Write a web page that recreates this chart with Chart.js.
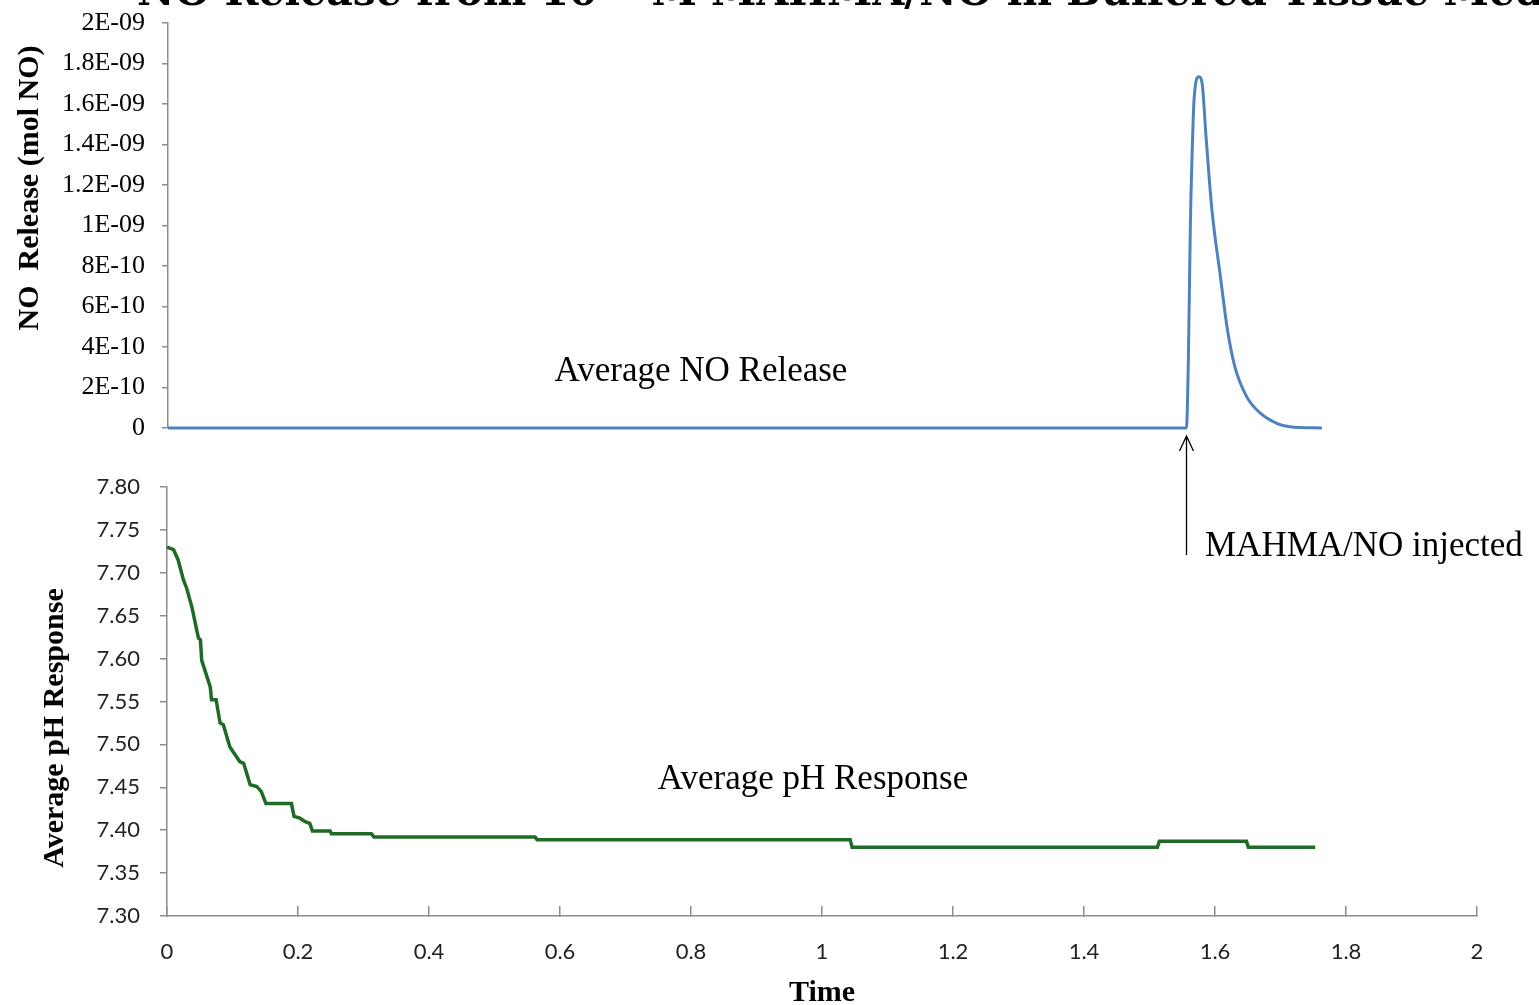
<!DOCTYPE html>
<html>
<head>
<meta charset="utf-8">
<script src="https://cdn.jsdelivr.net/npm/chart.js@4/dist/chart.umd.min.js"></script>
<style>
  html, body { margin: 0; padding: 0; background: #ffffff; }
  #wrap { position: relative; width: 1539px; height: 1005px; overflow: hidden; background: #ffffff; }
  canvas { position: absolute; left: 0; top: 0; }
</style>
</head>
<body>
<div id="wrap">
  <canvas id="topChart" width="1539" height="1005"></canvas>
  <canvas id="bottomChart" width="1539" height="1005"></canvas>
</div>
<script>
// ---------- data ----------
const noTime  = [0, 1.556, 1.559, 1.562, 1.566, 1.568, 1.575, 1.580, 1.586, 1.595, 1.608, 1.618, 1.630, 1.648, 1.669, 1.694, 1.714, 1.763];
const noValue = [0, 0, 3.36e-10, 9.94e-10, 1.488e-9, 1.636e-9, 1.735e-9, 1.702e-9, 1.439e-9, 1.077e-9, 7.47e-10, 5.0e-10, 3.03e-10, 1.55e-10, 7.3e-11, 2.3e-11, 6e-12, 0];

const pHTime  = [0, 0.010, 0.017, 0.025, 0.030, 0.038, 0.048, 0.051, 0.053, 0.066,
                 0.068, 0.075, 0.081, 0.086, 0.096, 0.111, 0.117, 0.127, 0.137, 0.144,
                 0.151, 0.190, 0.194, 0.203, 0.211, 0.218, 0.222, 0.249, 0.251, 0.312,
                 0.316, 0.562, 0.565, 1.043, 1.046, 1.512, 1.515, 1.648, 1.651, 1.753];
const pHValue = [7.730, 7.727, 7.715, 7.692, 7.682, 7.660, 7.624, 7.622, 7.598, 7.567,
                 7.552, 7.552, 7.525, 7.523, 7.497, 7.480, 7.478, 7.453, 7.451, 7.445,
                 7.431, 7.431, 7.416, 7.414, 7.410, 7.408, 7.399, 7.399, 7.396, 7.396,
                 7.392, 7.392, 7.389, 7.389, 7.380, 7.380, 7.387, 7.387, 7.380, 7.380];

const noTickValues = [0, 2e-10, 4e-10, 6e-10, 8e-10, 1e-9, 1.2e-9, 1.4e-9, 1.6e-9, 1.8e-9, 2e-9];
const noTickLabels = ['0', '2E-10', '4E-10', '6E-10', '8E-10', '1E-09', '1.2E-09', '1.4E-09', '1.6E-09', '1.8E-09', '2E-09'];
const pHTickValues = [7.30, 7.35, 7.40, 7.45, 7.50, 7.55, 7.60, 7.65, 7.70, 7.75, 7.80];
const pHTickLabels = ['7.30', '7.35', '7.40', '7.45', '7.50', '7.55', '7.60', '7.65', '7.70', '7.75', '7.80'];
const timeTickValues = [0, 0.2, 0.4, 0.6, 0.8, 1, 1.2, 1.4, 1.6, 1.8, 2];
const timeTickLabels = ['0', '0.2', '0.4', '0.6', '0.8', '1', '1.2', '1.4', '1.6', '1.8', '2'];

const injectTime = 1.556;

const chartTitle = 'NO Release from 10\u207B\u2074 M MAHMA/NO in Buffered Tissue Media';
const noAxisTitle = 'NO  Release (mol NO)';
const pHAxisTitle = 'Average pH Response';
const timeAxisTitle = 'Time';
const noSeriesLabel = 'Average NO Release';
const pHSeriesLabel = 'Average pH Response';
const injectLabel = 'MAHMA/NO injected';

// ---------- styles ----------
const SERIF = "'Liberation Serif', 'Times New Roman', serif";
const SANS = "Lato, 'Open Sans', sans-serif";
const AXIS_GRAY = '#8c8c8c';

function toXY(xs, ys) { return xs.map((x, i) => ({ x: x, y: ys[i] })); }
function fixedTicks(values) { return function (scale) { scale.ticks = values.map(v => ({ value: v })); }; }

Chart.defaults.animation = false;
Chart.defaults.responsive = false;
Chart.defaults.plugins.legend.display = false;
Chart.defaults.plugins.tooltip.enabled = false;

// ---------- top chart: NO release ----------
const topTextPlugin = {
  id: 'topText',
  afterDraw(chart) {
    const ctx = chart.ctx;
    ctx.save();
    // cut-off chart title
    ctx.fillStyle = '#000';
    ctx.font = "bold 41px 'DejaVu Serif', serif";
    ctx.textAlign = 'left';
    ctx.textBaseline = 'alphabetic';
    ctx.fillText(chartTitle, 137, 5);
    // y-axis title
    ctx.font = 'bold 30px ' + SERIF;
    ctx.translate(30, 188);
    ctx.rotate(-Math.PI / 2);
    ctx.textAlign = 'center';
    ctx.textBaseline = 'middle';
    ctx.fillText(noAxisTitle, 0, 0);
    ctx.restore();
    // series label
    ctx.save();
    ctx.fillStyle = '#000';
    ctx.font = '35px ' + SERIF;
    ctx.textAlign = 'center';
    ctx.textBaseline = 'alphabetic';
    ctx.fillText(noSeriesLabel, 701, 381);
    ctx.restore();
  }
};

new Chart(document.getElementById('topChart'), {
  type: 'line',
  data: {
    datasets: [{
      data: toXY(noTime, noValue),
      borderColor: '#4f81bd',
      borderWidth: 3,
      pointRadius: 0,
      tension: 0.35,
      cubicInterpolationMode: 'monotone',
      clip: false
    }]
  },
  options: {
    layout: { padding: { top: 23, bottom: 1005 - 428, left: 0, right: 1539 - 1477 } },
    scales: {
      x: {
        type: 'linear', min: 0, max: 2, display: false
      },
      y: {
        type: 'linear', min: 0, max: 2e-9,
        afterBuildTicks: fixedTicks(noTickValues),
        afterFit(scale) { scale.width = 168; scale.paddingTop = 0; scale.paddingBottom = 0; },
        border: { display: true, color: AXIS_GRAY, width: 1.5 },
        grid: { drawOnChartArea: false, drawTicks: true, tickLength: 6, color: AXIS_GRAY, lineWidth: 1.5 },
        ticks: {
          padding: 17,
          color: '#000',
          font: { family: SERIF, size: 26 },
          callback: (v, i) => noTickLabels[i]
        }
      }
    }
  },
  plugins: [topTextPlugin]
});

// ---------- bottom chart: pH response ----------
const bottomTextPlugin = {
  id: 'bottomText',
  afterDraw(chart) {
    const ctx = chart.ctx;
    const xs = chart.scales.x;
    ctx.save();
    ctx.fillStyle = '#000';
    ctx.font = 'bold 30px ' + SERIF;
    ctx.translate(55, 728);
    ctx.rotate(-Math.PI / 2);
    ctx.textAlign = 'center';
    ctx.textBaseline = 'middle';
    ctx.fillText(pHAxisTitle, 0, 0);
    ctx.restore();

    ctx.save();
    ctx.fillStyle = '#000';
    ctx.font = '35px ' + SERIF;
    ctx.textAlign = 'center';
    ctx.textBaseline = 'alphabetic';
    ctx.fillText(pHSeriesLabel, 813, 789);
    ctx.textAlign = 'left';
    ctx.fillText(injectLabel, 1205, 556);

    // injection arrow
    const ax = Math.round(xs.getPixelForValue(injectTime)) + 0.5;
    ctx.strokeStyle = '#000';
    ctx.lineWidth = 1.3;
    ctx.beginPath();
    ctx.moveTo(ax, 555);
    ctx.lineTo(ax, 436);
    ctx.moveTo(ax - 7, 451);
    ctx.lineTo(ax, 436);
    ctx.lineTo(ax + 7, 451);
    ctx.stroke();
    ctx.restore();
  }
};

new Chart(document.getElementById('bottomChart'), {
  type: 'line',
  data: {
    datasets: [{
      data: toXY(pHTime, pHValue),
      borderColor: '#1f6b25',
      borderWidth: 3.5,
      pointRadius: 0,
      tension: 0,
      clip: false
    }]
  },
  options: {
    layout: { padding: { top: 487, bottom: 0, left: 0, right: 1539 - 1477 } },
    scales: {
      x: {
        type: 'linear', min: 0, max: 2,
        afterBuildTicks: fixedTicks(timeTickValues),
        afterFit(scale) { scale.height = 1005 - 916; },
        border: { display: true, color: AXIS_GRAY, width: 1.5 },
        grid: { drawOnChartArea: false, drawTicks: true, tickLength: -10, color: AXIS_GRAY, lineWidth: 1.5 },
        ticks: {
          padding: 33,
          maxRotation: 0,
          color: '#222',
          font: { family: SANS, size: 22 },
          callback: (v, i) => timeTickLabels[i]
        },
        title: {
          display: true,
          text: timeAxisTitle,
          color: '#000',
          font: { family: SERIF, size: 30, weight: 'bold', lineHeight: 0.8 },
          padding: { top: 0, bottom: 0 }
        }
      },
      y: {
        type: 'linear', min: 7.30, max: 7.80,
        afterBuildTicks: fixedTicks(pHTickValues),
        afterFit(scale) { scale.width = 167; },
        border: { display: true, color: AXIS_GRAY, width: 1.5 },
        grid: { drawOnChartArea: false, drawTicks: true, tickLength: 7, color: AXIS_GRAY, lineWidth: 1.5 },
        ticks: {
          padding: 20,
          color: '#222',
          font: { family: SANS, size: 22 },
          callback: (v, i) => pHTickLabels[i]
        }
      }
    }
  },
  plugins: [bottomTextPlugin]
});
</script>
</body>
</html>
